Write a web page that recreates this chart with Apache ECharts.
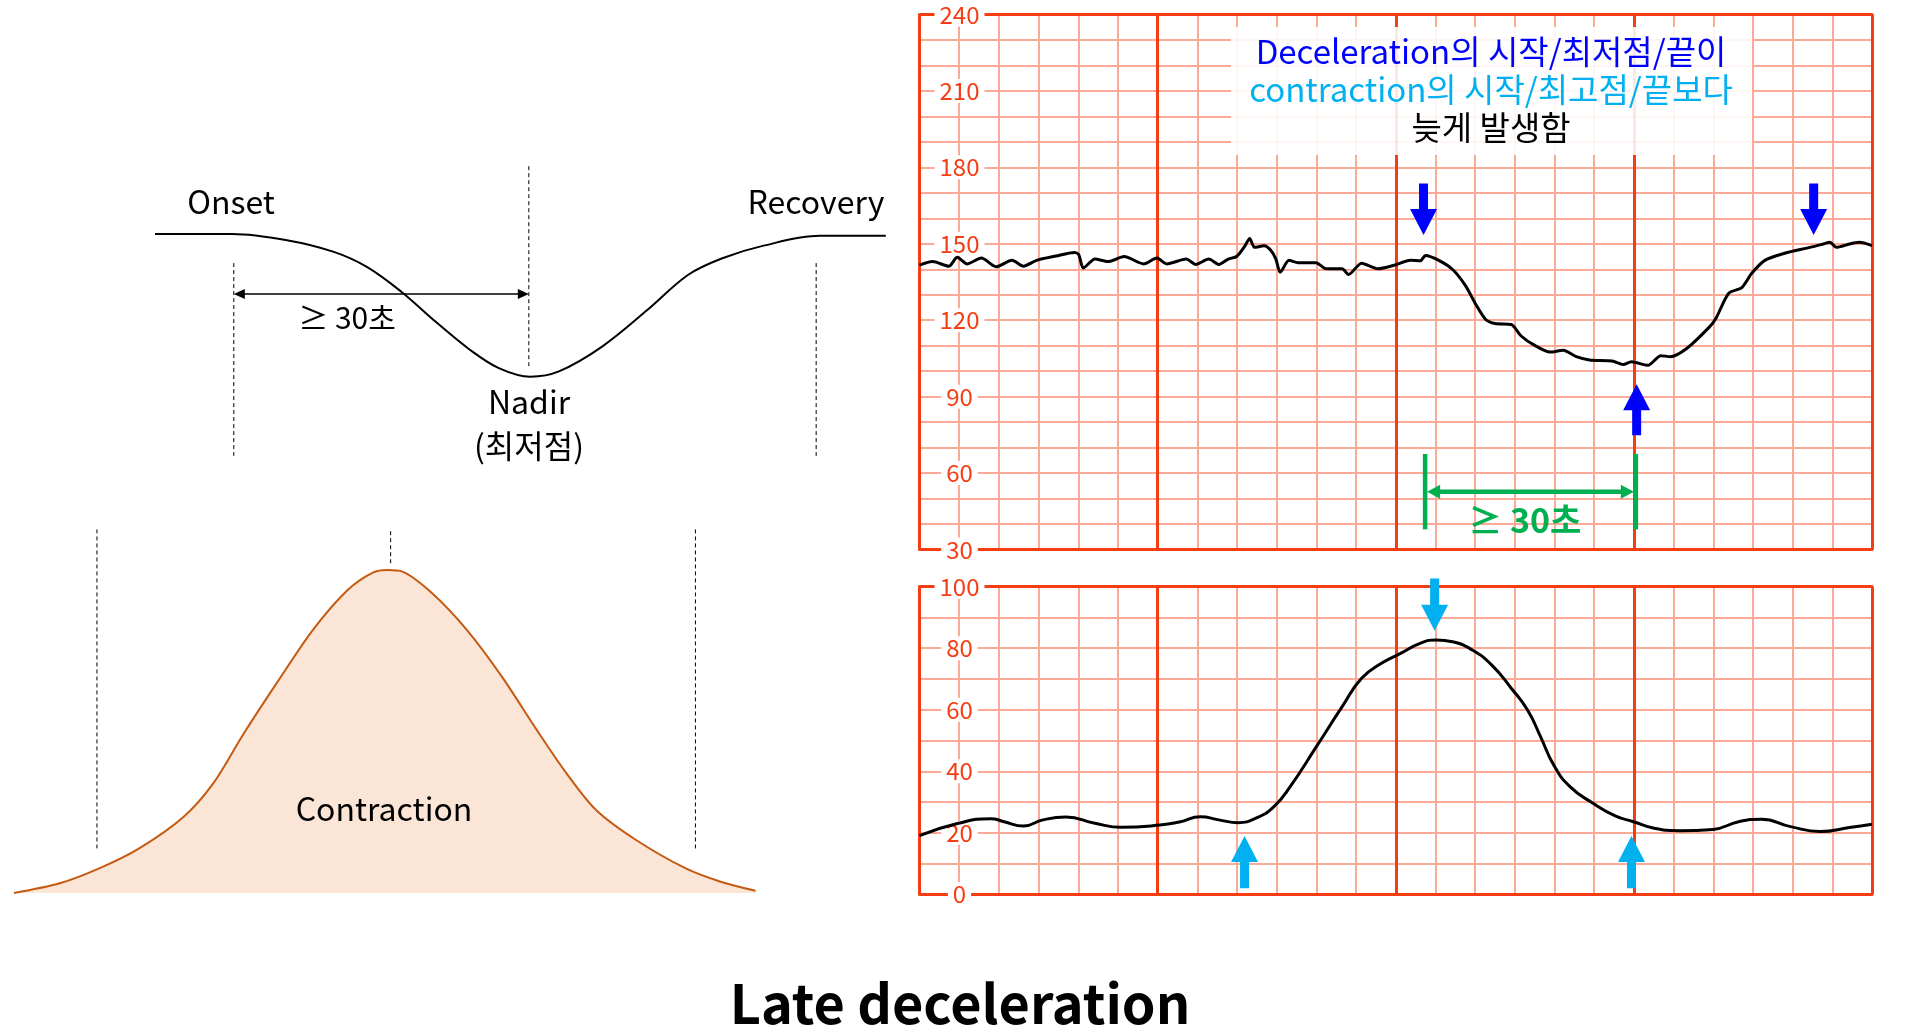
<!DOCTYPE html>
<html><head><meta charset="utf-8">
<script src="https://cdn.jsdelivr.net/npm/echarts@6/dist/echarts.min.js"></script>
<style>html,body{margin:0;padding:0;background:#fff}#c{width:1919px;height:1033px}</style>
</head><body><div id="c"></div><script>
const FONT = '"Noto Sans CJK KR", "Noto Sans", sans-serif';
const MAJOR = '#f53d14';
const MINOR = '#fca996';
const BLUE = '#0000ff';
const CYAN = '#00b0f0';
const GREEN = '#00b050';

// ---- Data ----
// time in minor grid divisions (0..24), FHR in bpm
const fhrTrace = [[0,141.6],[0.33,143],[0.74,141.2],[0.95,144.7],[1.2,142.1],[1.56,144.4],[1.93,141],[2.33,143.5],[2.62,141.2],[2.95,143.5],[3.44,145.2],[3.9,146.6],[4.01,145.8],[4.13,140.5],[4.42,144],[4.75,143],[5.16,145],[5.65,142.1],[5.98,144.4],[6.23,142.1],[6.72,144],[6.96,141.9],[7.29,144],[7.54,141.9],[7.78,144],[7.99,145],[8.19,148.9],[8.32,152.1],[8.44,148.6],[8.68,149.2],[8.85,147.5],[8.98,144],[9.09,138.8],[9.31,143.5],[9.54,142.6],[9.99,142.6],[10.24,140.2],[10.65,140.2],[10.81,137.9],[11.14,142.4],[11.55,140.2],[11.96,141.6],[12.37,143.5],[12.62,143.3],[12.75,145.4],[13.11,143.3],[13.44,139.8],[13.76,133.5],[14.01,126.4],[14.26,120.4],[14.5,118.7],[14.91,118.3],[15.16,113.8],[15.48,110.3],[15.89,107.5],[16.22,108.2],[16.55,105.7],[16.88,104.4],[17.45,104],[17.73,102.6],[17.94,103.7],[18.35,102.3],[18.68,106.1],[18.92,105.7],[19.33,108.9],[19.9,117.3],[20.07,120.8],[20.39,130.6],[20.72,132.8],[20.97,138.4],[21.3,143.5],[21.8,146.3],[22.44,148.6],[22.77,149.9],[22.94,150.6],[23.1,148.6],[23.43,149.9],[23.68,150.6],[24,149.3]];
// uterine activity (mmHg)
const uaTrace = [[0,19.1],[0.98,23.1],[1.8,24.6],[2.13,23.6],[2.62,22.2],[3.11,24.2],[3.69,25.1],[4.42,23.1],[5.08,21.8],[6.06,22.5],[6.55,23.5],[7.08,25.2],[7.54,24.2],[8.03,23.3],[8.52,25],[8.93,28.5],[9.34,35],[10.0,48],[10.65,61],[11.14,70.2],[11.64,75.1],[12.12,78.3],[12.61,81.6],[13.02,82.7],[13.43,82.1],[13.93,79.4],[14.42,74.5],[14.91,67],[15.32,59.9],[15.65,51.2],[15.98,42],[16.39,35],[16.97,29.6],[17.53,25.5],[17.99,23.6],[18.51,21.5],[19.17,20.7],[19.99,21.1],[20.64,23.6],[21.21,24.4],[21.95,22],[22.69,20.4],[23.43,21.7],[24,22.8]];
const fhrRange = [30, 240];
const uaRange = [0, 100];
const fhrLabelStep = 30;
const uaLabelStep = 20;
// block arrows: [time, from, to]
const fhrArrows = [[12.7,173.7,153.4],[22.53,173.7,153.4],[18.07,74.8,94.9]];
const uaArrows = [[12.98,102.7,85.7],[8.19,1.95,18.95],[17.94,1.95,18.95]];
// green bracket: [tStart, tEnd, yLow, yHigh, yArrow]
const bracket = [[12.74,18.05,37.9,67.5,52.7]];
const bracketLabel = [[15.25,41.7,'≥ 30초']];
// schematic deceleration (time 0..100, depth)
const decelCurve = [[0,0],[10.55,0],[18,-1.3],[24.3,-3.7],[28.9,-6.9],[33.6,-12.1],[38.3,-18.4],[43,-24.3],[46.9,-28.1],[51.2,-29.9],[55.1,-28.8],[61,-23.6],[67.2,-15.9],[72.7,-8.6],[77.4,-5.1],[82.9,-2.5],[90.7,-0.4],[99.7,-0.4]];
const decelGuides = [[10.75,-6.1,-46.5],[51,14.2,-27.8],[90.2,-6.1,-46.5]];
const decelSpan = [[10.75,51,-12.6]];
// schematic contraction
const contractionCurve = [[0,0],[6.2,3.0],[11.5,7.6],[16.9,13.8],[22.9,23.6],[26.9,34.0],[31.0,49.4],[35.7,65.9],[40.3,81.4],[45.0,93.8],[48.4,99.2],[50.4,100],[52.4,99.5],[56.4,92.8],[61.1,81.4],[65.8,67.0],[70.5,50.5],[74.5,37.1],[78.5,25.7],[83.9,16.4],[90.6,7.6],[95.3,3.5],[100,0.7]];
const contractionGuides = [[11.2,13.8,112.6],[50.8,102.1,112.6],[91.9,13.8,112.6]];

const annotationLines = [['Deceleration의 시작/최저점/끝이', BLUE],['contraction의 시작/최고점/끝보다', CYAN],['늦게 발생함', '#000']];

// ---- helpers ----
function stripAxes(gridIndex, yMin, yMax, labelStep) {
  const hide = {axisLine:{show:false},axisTick:{show:false},axisLabel:{show:false},splitLine:{show:false}};
  const xs = [
    Object.assign({}, hide, {gridIndex, type:'value', min:0, max:24, interval:1, z:1,
      splitLine:{show:true, lineStyle:{color:MINOR, width:2}}}),
    Object.assign({}, hide, {gridIndex, type:'value', min:0, max:24, interval:6, z:2, position:'bottom',
      splitLine:{show:true, lineStyle:{color:MAJOR, width:3}},
      axisLine:{show:true, onZero:false, lineStyle:{color:MAJOR, width:3}}}),
    Object.assign({}, hide, {gridIndex, type:'value', min:0, max:24, interval:6, z:2, position:'top',
      axisLine:{show:true, onZero:false, lineStyle:{color:MAJOR, width:3}}})
  ];
  const ys = [
    Object.assign({}, hide, {gridIndex, type:'value', min:yMin, max:yMax, interval:10, z:1, position:'left',
      splitLine:{show:true, lineStyle:{color:MINOR, width:2}}}),
    Object.assign({}, hide, {gridIndex, type:'value', min:yMin, max:yMax, interval:labelStep, z:5, position:'left',
      axisLabel:{show:true, inside:true, margin:40, align:'center', verticalAlign:'middle', color:MAJOR,
        fontSize:24, fontFamily:FONT, backgroundColor:'#fff', padding:[0,5], showMinLabel:true, showMaxLabel:true}})
  ];
  return {xs, ys};
}
function hiddenAxis(gridIndex, min, max) {
  return {gridIndex, type:'value', min, max, show:false, splitLine:{show:false}};
}
function blockArrow(color) {
  return function (params, api) {
    const p0 = api.coord([api.value(0), api.value(1)]);
    const p1 = api.coord([api.value(0), api.value(2)]);
    const dir = p1[1] > p0[1] ? 1 : -1;
    const hl = 26, hw = 13.5, sw = 4.5, x = p0[0];
    const yb = p1[1] - dir * hl;
    return {type:'polygon', shape:{points:[[x-sw,p0[1]],[x+sw,p0[1]],[x+sw,yb],[x+hw,yb],[x,p1[1]],[x-hw,yb],[x-sw,yb]]},
      style:{fill:color}};
  };
}
function dashedGuide(params, api) {
  const a = api.coord([api.value(0), api.value(1)]);
  const b = api.coord([api.value(0), api.value(2)]);
  return {type:'line', shape:{x1:a[0], y1:a[1], x2:b[0], y2:b[1]},
    style:{stroke:'#000', lineWidth:1, lineDash:[4,3]}};
}
function doubleArrow(a, b, color, lw, hl, hw) {
  return [
    {type:'line', shape:{x1:a[0]+hl*0.8, y1:a[1], x2:b[0]-hl*0.8, y2:b[1]}, style:{stroke:color, lineWidth:lw}},
    {type:'polygon', shape:{points:[[a[0],a[1]],[a[0]+hl,a[1]-hw],[a[0]+hl,a[1]+hw]]}, style:{fill:color}},
    {type:'polygon', shape:{points:[[b[0],b[1]],[b[0]-hl,b[1]-hw],[b[0]-hl,b[1]+hw]]}, style:{fill:color}}
  ];
}
function textEl(text, x, y, size, color, weight) {
  return {type:'text', x, y, z:100, style:{text, fill:color || '#000', font:(weight||'normal') + ' ' + size + 'px ' + FONT,
    align:'center', verticalAlign:'middle', textAlign:'center', textVerticalAlign:'middle'}};
}

const topAx = stripAxes(0, fhrRange[0], fhrRange[1], fhrLabelStep);
const botAx = stripAxes(1, uaRange[0], uaRange[1], uaLabelStep);

const option = {
  animation:false,
  backgroundColor:'#fff',
  grid:[
    {left:919.5, top:14.5, width:952.5, height:535, outerBoundsMode:'none'},
    {left:919.5, top:586.7, width:952.5, height:307.6, outerBoundsMode:'none'},
    {left:155, top:138.5, width:733, height:334.1, outerBoundsMode:'none'},
    {left:13.9, top:505.4, width:741.6, height:387.6, outerBoundsMode:'none'}
  ],
  xAxis:[...topAx.xs, ...botAx.xs, hiddenAxis(2,0,100), hiddenAxis(3,0,100)],
  yAxis:[...topAx.ys, ...botAx.ys, hiddenAxis(2,-50,20), hiddenAxis(3,0,120)],
  series:[
    {type:'line', xAxisIndex:0, yAxisIndex:0, data:fhrTrace, smooth:0.25, symbol:'none', z:10,
      lineStyle:{color:'#000', width:3}},
    {type:'line', xAxisIndex:3, yAxisIndex:2, data:uaTrace, smooth:0.5, symbol:'none', z:10,
      lineStyle:{color:'#000', width:3}},
    {type:'custom', xAxisIndex:0, yAxisIndex:0, data:fhrArrows, renderItem:blockArrow(BLUE), clip:false, z:12},
    {type:'custom', xAxisIndex:3, yAxisIndex:2, data:uaArrows, renderItem:blockArrow(CYAN), clip:false, z:12},
    {type:'custom', xAxisIndex:0, yAxisIndex:0, data:bracket, clip:false, z:12,
      renderItem:function (params, api) {
        const l0 = api.coord([api.value(0), api.value(2)]), l1 = api.coord([api.value(0), api.value(3)]);
        const r0 = api.coord([api.value(1), api.value(2)]), r1 = api.coord([api.value(1), api.value(3)]);
        const a = api.coord([api.value(0), api.value(4)]), b = api.coord([api.value(1), api.value(4)]);
        return {type:'group', children:[
          {type:'line', shape:{x1:l0[0], y1:l0[1], x2:l1[0], y2:l1[1]}, style:{stroke:GREEN, lineWidth:4.5}},
          {type:'line', shape:{x1:r0[0], y1:r0[1], x2:r1[0], y2:r1[1]}, style:{stroke:GREEN, lineWidth:4.5}},
          ...doubleArrow([a[0]+2,a[1]],[b[0]-2,b[1]], GREEN, 4.5, 13, 7)
        ]};
      }},
    {type:'custom', xAxisIndex:0, yAxisIndex:0, data:bracketLabel, clip:false, z:12,
      renderItem:function (params, api) {
        const p = api.coord([api.value(0), api.value(1)]);
        return {type:'text', x:p[0], y:p[1], style:{text:bracketLabel[params.dataIndex][2], fill:GREEN,
          font:'bold 34px ' + FONT, align:'center', verticalAlign:'middle', textAlign:'center', textVerticalAlign:'middle'}};
      }},
    {type:'line', xAxisIndex:6, yAxisIndex:4, data:decelCurve, smooth:0.35, symbol:'none', z:10,
      lineStyle:{color:'#000', width:2}},
    {type:'custom', xAxisIndex:6, yAxisIndex:4, data:decelGuides, renderItem:dashedGuide, clip:false, z:9},
    {type:'custom', xAxisIndex:6, yAxisIndex:4, data:decelSpan, clip:false, z:11,
      renderItem:function (params, api) {
        const a = api.coord([api.value(0), api.value(2)]), b = api.coord([api.value(1), api.value(2)]);
        return {type:'group', children:doubleArrow(a, b, '#000', 1.5, 11, 5)};
      }},
    {type:'line', xAxisIndex:7, yAxisIndex:5, data:contractionCurve, smooth:0.3, symbol:'none', z:10,
      lineStyle:{color:'#c55a11', width:2}, areaStyle:{color:'#fbe5d6', opacity:1, origin:'start'}},
    {type:'custom', xAxisIndex:7, yAxisIndex:5, data:contractionGuides, renderItem:dashedGuide, clip:false, z:9}
  ],
  graphic:[
    {type:'rect', shape:{x:1231, y:27, width:521, height:128}, style:{fill:'rgba(255,255,255,0.88)'}, z:50},
    textEl(annotationLines[0][0], 1491, 51.5, 33, annotationLines[0][1]),
    textEl(annotationLines[1][0], 1491, 89.5, 33, annotationLines[1][1]),
    textEl(annotationLines[2][0], 1491, 127, 33, annotationLines[2][1]),
    textEl('Onset', 231, 202, 32),
    textEl('Recovery', 816, 202, 32),
    textEl('≥ 30초', 347, 318, 30),
    textEl('Nadir', 529, 402, 32),
    textEl('(최저점)', 529, 446, 32),
    textEl('Contraction', 384, 809, 32),
    textEl('Late deceleration', 960, 1003, 54, '#000', 'bold')
  ]
};
const chart = echarts.init(document.getElementById('c'), null, {renderer:'canvas'});
chart.setOption(option);
</script></body></html>
